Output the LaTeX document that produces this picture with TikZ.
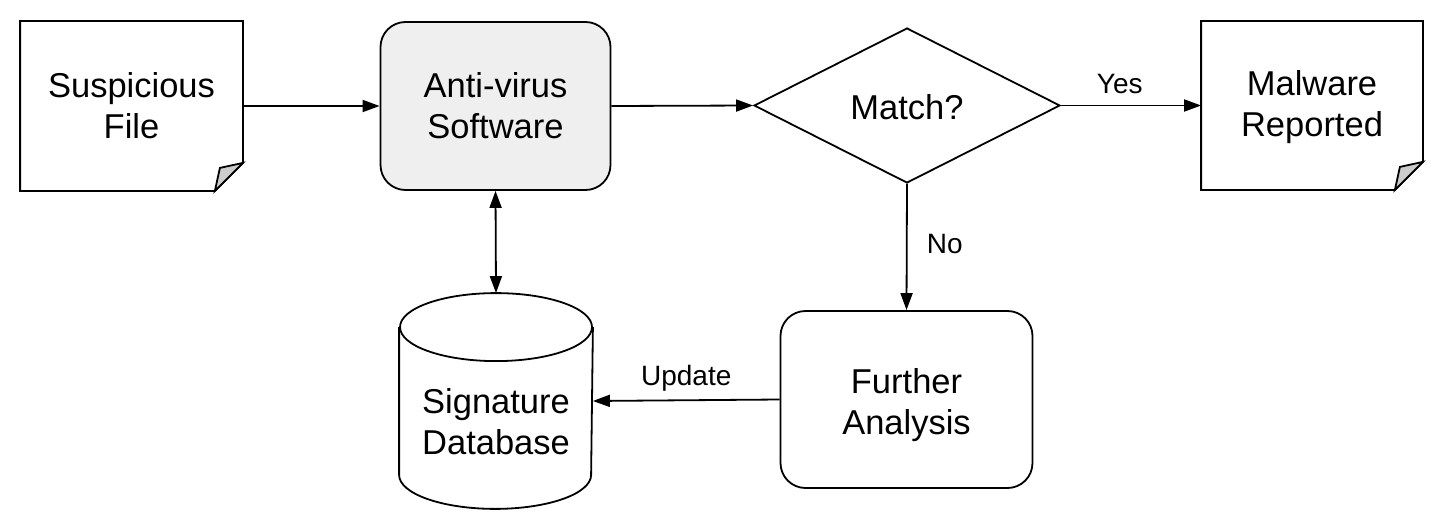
\documentclass[tikz,border=0pt]{standalone}
\usepackage{fontspec}
\setmainfont{Liberation Sans}
\usetikzlibrary{arrows.meta,shapes.geometric}
\definecolor{avfill}{RGB}{239,239,239}
\definecolor{foldfill}{RGB}{204,204,204}
\begin{document}
\begin{tikzpicture}[x=1pt,y=-1pt,
  line width=1.8pt,
  maintext/.style={font=\fontsize{34.5}{41}\selectfont, align=center, inner sep=0pt},
  lbltext/.style={font=\fontsize{28}{33}\selectfont, inner sep=0pt},
  docbox/.style={maintext, minimum width=220pt, minimum height=167pt},
  roundbox/.style={maintext, draw, rounded corners=25pt},
  decision/.style={maintext, draw, diamond, minimum width=306pt, minimum height=155pt},
  conn/.style={-{Triangle[length=17pt,width=12pt]}},
  biconn/.style={{Triangle[length=17pt,width=12pt]}-{Triangle[length=17pt,width=12pt]}}
]
\useasboundingbox (0,0) rectangle (1440,524);

% nodes
\node[docbox, minimum width=221pt, minimum height=168pt] (susp) at (131.5,106) {Suspicious\\File};
\node[roundbox, fill=avfill, minimum width=230pt, minimum height=168pt] (av) at (495.5,106) {Anti-virus\\Software};
\node[decision] (match) at (907,105.5) {};
\node[maintext] (matchtext) at (907,107.5) {Match?};
\node[docbox] (mal) at (1312,105.5) {};
\node[maintext] (maltext) at (1312,107.5) {Malware\\Reported};
\node[roundbox, minimum width=252pt, minimum height=177pt] (fa) at (906.5,399.5) {};
\node[maintext] (fatext) at (906.5,405) {Further\\Analysis};
\node[minimum width=192pt, minimum height=214pt, inner sep=0pt] (db) at (496,401) {};
\node[maintext] (dbtext) at (496,422) {Signature\\Database};

% document outlines with folded corner
\foreach \n in {susp,mal}{
  \draw (\n.north west) -- (\n.north east) -- ([yshift=28pt]\n.south east)
        -- ([xshift=-28pt]\n.south east) -- (\n.south west) -- cycle;
  \draw[fill=foldfill] ([xshift=-28pt]\n.south east) -- ([xshift=-23pt,yshift=23pt]\n.south east)
        -- ([yshift=28pt]\n.south east) -- cycle;
}

% cylinder
\draw ([yshift=-34pt]db.north) ellipse [x radius=96pt, y radius=34pt];
\draw ([yshift=-34pt]db.north west) -- ([yshift=34pt]db.south west)
      arc[start angle=180, end angle=360, x radius=96pt, y radius=34pt]
      -- ([yshift=-34pt]db.north east);

% connectors
\draw[conn] (susp.east) -- (av.west);
\draw[conn] (av.east) -- (match.west);
\draw[conn] (match.east) -- node[lbltext, pos=0.42, yshift=21pt] (yes) {Yes} (mal.west);
\draw[conn] (match.south) -- node[lbltext, pos=0.48, xshift=38pt] (no) {No} (fa.north);
\draw[conn] (fa.west) -- node[lbltext, midway, yshift=22pt] (upd) {Update} (db.east);
\draw[biconn] (av.south) -- (db.north);
\end{tikzpicture}
\end{document}
